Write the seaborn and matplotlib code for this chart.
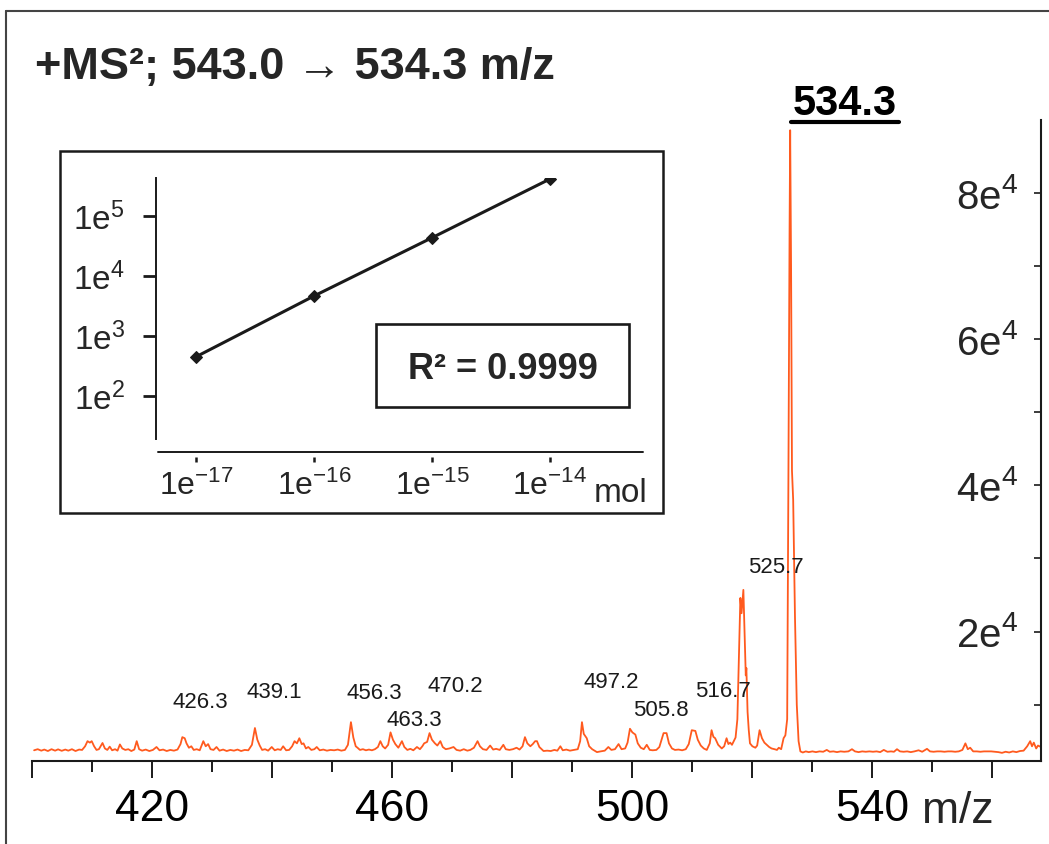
import numpy as np
import pandas as pd
import matplotlib
matplotlib.use("Agg")
import matplotlib.pyplot as plt
import seaborn as sns
from matplotlib.lines import Line2D
from matplotlib.patches import Rectangle
from matplotlib.ticker import NullLocator
from matplotlib.transforms import IdentityTransform

# spectrum (m/z, counts on the right-hand axis)
mz = [400.3, 400.9, 401.5, 402.0, 402.6, 403.2, 403.8, 404.3, 404.9, 405.5,
      406.0, 406.6, 407.2, 407.8, 408.3, 408.8, 409.2, 409.6, 409.9, 410.3,
      410.7, 411.1, 411.7, 412.1, 412.5, 412.9, 413.3, 413.8, 414.2, 414.6,
      415.0, 415.5, 416.0, 416.5, 417.0, 417.4, 417.8, 418.3, 418.9, 419.5,
      420.1, 420.7, 421.2, 421.8, 422.4, 423.0, 423.6, 424.2, 424.7, 425.0,
      425.4, 425.7, 426.1, 426.5, 426.9, 427.4, 427.9, 428.5, 428.9, 429.3,
      429.7, 430.2, 430.7, 431.2, 431.8, 432.4, 433.0, 433.6, 434.2, 434.8,
      435.4, 436.0, 436.6, 437.1, 437.5, 437.9, 438.3, 438.8, 439.3, 439.9,
      440.4, 440.9, 441.4, 441.8, 442.3, 442.8, 443.3, 443.7, 444.1, 444.5,
      444.9, 445.2, 445.6, 446.0, 446.5, 447.0, 447.4, 447.9, 448.5, 449.1,
      449.7, 450.3, 450.9, 451.5, 452.1, 452.6, 453.1, 453.5, 453.9, 454.2,
      454.6, 455.1, 455.6, 456.1, 456.6, 457.1, 457.6, 458.0, 458.4, 458.8,
      459.3, 459.7, 460.1, 460.5, 461.0, 461.6, 462.0, 462.5, 463.0, 463.5,
      464.1, 464.6, 465.0, 465.3, 465.8, 466.2, 466.6, 467.1, 467.5, 468.0,
      468.4, 468.9, 469.5, 470.2, 470.7, 471.3, 471.9, 472.5, 473.0, 473.6,
      474.2, 474.6, 475.1, 475.7, 476.3, 476.8, 477.3, 477.9, 478.5, 478.9,
      479.5, 480.1, 480.7, 481.2, 481.7, 482.1, 482.5, 483.0, 483.4, 483.8,
      484.1, 484.5, 485.2, 485.8, 486.4, 487.0, 487.5, 488.0, 488.4, 489.0,
      489.6, 490.3, 490.9, 491.3, 491.6, 491.9, 492.4, 492.8, 493.3, 494.1,
      494.7, 495.4, 496.0, 496.5, 497.1, 497.7, 498.2, 498.8, 499.2, 499.6,
      500.0, 500.5, 500.9, 501.4, 501.9, 502.4, 502.9, 503.4, 504.0, 504.5,
      504.9, 505.2, 505.7, 506.1, 506.6, 507.1, 507.7, 508.3, 508.9, 509.4,
      509.9, 510.5, 510.9, 511.4, 511.9, 512.4, 512.9, 513.2, 513.5, 513.8,
      514.3, 514.9, 515.3, 515.7, 516.0, 516.3, 516.6, 516.9, 517.2, 517.5,
      517.8, 518.0, 518.2, 518.5, 518.7, 518.9, 519.0, 519.2, 519.4, 519.6,
      520.0, 520.5, 520.8, 521.2, 521.6, 522.0, 522.4, 522.8, 523.2, 523.7,
      524.1, 524.4, 524.8, 525.2, 525.5, 525.8, 526.0, 526.2, 526.3, 526.45,
      526.6, 526.8, 527.1, 527.4, 527.7, 528.0, 528.4, 528.9, 529.4, 530.0,
      530.6, 531.2, 531.8, 532.4, 532.9, 533.5, 534.1, 534.7, 535.3, 536.0,
      536.6, 537.1, 537.7, 538.3, 538.9, 539.5, 540.1, 540.7, 541.3, 541.9,
      542.5, 543.1, 543.6, 544.1, 544.6, 545.2, 545.8, 546.4, 547.0, 547.7,
      548.3, 549.1, 549.6, 550.2, 550.8, 551.4, 552.0, 552.6, 553.2, 553.8,
      554.4, 555.0, 555.5, 555.9, 556.3, 556.8, 557.4, 558.0, 558.6, 559.2,
      559.8, 560.4, 561.0, 561.6, 562.2, 562.8, 563.4, 564.0, 564.6, 565.2,
      565.8, 566.3, 566.6, 566.9, 567.3, 567.6, 568.1]
intensity = [3750, 3900, 3700, 3850, 3650, 3900, 3700, 3880, 3680, 3850,
             3700, 3900, 3650, 3850, 3800, 4300, 5000, 4800, 5000, 4300,
             3800, 3900, 4750, 4000, 3800, 4250, 3750, 3900, 3700, 4550,
             4000, 3800, 3900, 3650, 3850, 5000, 3900, 3700, 3850, 3650,
             3800, 4200, 3750, 3850, 3650, 3800, 3700, 3850, 4600, 5550,
             5400, 4700, 4100, 4300, 3800, 3900, 3750, 5000, 4300, 4600,
             3900, 3800, 4200, 3700, 3850, 3650, 3800, 3700, 3850, 3650,
             3800, 3750, 4500, 6800, 5200, 4400, 3800, 3900, 3700, 4200,
             3750, 3900, 3800, 4300, 3750, 3800, 4300, 5000, 4700, 5400,
             4600, 4700, 4000, 4200, 3800, 3900, 4200, 3750, 3850, 3700,
             3800, 3750, 3850, 3700, 3800, 4500, 7600, 5500, 4300, 4100,
             3800, 3900, 3750, 3850, 3750, 3900, 4200, 5000, 4300, 4000,
             4500, 6200, 5200, 4600, 4100, 5000, 4200, 3800, 3950, 3750,
             4200, 3900, 4300, 4700, 4900, 6100, 5200, 4700, 4400, 5000,
             4200, 3900, 4000, 4200, 3800, 3700, 3900, 3700, 3800, 4100,
             5000, 4300, 3900, 3800, 4400, 3850, 3950, 3800, 4500, 3900,
             3800, 3900, 4100, 3850, 4300, 5550, 4700, 4300, 4600, 5000,
             5000, 4200, 3650, 3700, 3650, 3800, 3700, 4300, 3750, 3850,
             3700, 3800, 3900, 5000, 7600, 6000, 5400, 4300, 3900, 3500,
             3600, 3700, 4200, 3800, 3900, 4600, 3900, 4000, 4800, 6700,
             6200, 5900, 4700, 4100, 3900, 4500, 3800, 3750, 3800, 4200,
             5300, 6100, 6100, 4700, 4000, 3800, 3850, 3750, 3900, 4600,
             6500, 6400, 5200, 4400, 4000, 3800, 4700, 6500, 5600, 5400,
             4500, 4000, 4300, 5400, 4600, 4800, 4500, 5000, 5500, 8000,
             18000, 24600, 22500, 25700, 20000, 14000, 15000, 9000, 6500, 4700,
             4300, 4100, 4400, 6500, 5400, 4800, 4500, 4200, 4000, 3900,
             3800, 4100, 3900, 5400, 5800, 8000, 40000, 75000, 88600, 70000,
             42000, 38000, 22000, 10000, 5000, 3600, 3450, 3600, 3500, 3600,
             3500, 3600, 3550, 3800, 3550, 3600, 3500, 3600, 3550, 3600,
             3900, 3600, 3500, 3600, 3550, 3600, 3550, 3600, 3500, 3800,
             3550, 3600, 3550, 3900, 3600, 3550, 3600, 3500, 3600, 3750,
             3550, 3950, 3600, 3550, 3600, 3600, 3550, 3600, 3600, 3550,
             3600, 3800, 4700, 3900, 4100, 3600, 3600, 3550, 3600, 3600,
             3600, 3550, 3500, 3400, 3550, 3450, 3600, 3500, 3650, 3700,
             4300, 5000, 4300, 4800, 4000, 4400, 4200]

peak_labels = ["426.3", "439.1", "456.3", "463.3", "470.2",
               "497.2", "505.8", "516.7", "525.7"]
base_peak = "534.3"
title = "+MS²; 543.0 → 534.3 m/z"

x_tick_labels = ["", "420", "", "460", "", "500", "", "540", ""]
y_tick_values = [2e4, 4e4, 6e4, 8e4]
y_tick_labels = [r"2e$^{4}$", r"4e$^{4}$", r"6e$^{4}$", r"8e$^{4}$"]

# calibration inset
inset_mol = [1e-17, 1e-16, 1e-15, 1e-14]
inset_signal = [450, 4640, 43400, 414000]
inset_x_labels = [r"1e$^{-17}$", r"1e$^{-16}$", r"1e$^{-15}$", r"1e$^{-14}$"]
inset_y_values = [1e2, 1e3, 1e4, 1e5]
inset_y_labels = [r"1e$^{2}$", r"1e$^{3}$", r"1e$^{4}$", r"1e$^{5}$"]
r2_text = "R² = 0.9999"

# where the peak labels sit (data coords of the text centres)
label_x = [427.95, 440.4, 456.95, 463.6, 470.45, 496.55, 504.8, 515.1, 523.95]
label_y = [10230, 11720, 11590, 7890, 12540, 12960, 9260, 11860, 28700]

sns.set_style("white")
plt.rcParams["font.family"] = ["Liberation Sans", "DejaVu Sans"]
plt.rcParams["mathtext.fontset"] = "custom"
plt.rcParams["mathtext.rm"] = "Liberation Sans"
plt.rcParams["mathtext.bf"] = "Liberation Sans:bold"
plt.rcParams["mathtext.default"] = "regular"

W, H = 1049, 844
fig = plt.figure(figsize=(W / 100, H / 100), dpi=100, facecolor="white")


def fx(px):
    return px / W


def fy(py):
    return 1 - py / H


ink = "#1a1a1a"
orange = "#ff5a1e"

# ---- main spectrum ----
ax = fig.add_axes([fx(32.3), fy(761), fx(1041) - fx(32.3), fy(120) - fy(761)])
spec = pd.DataFrame({"mz": mz, "intensity": intensity})
sns.lineplot(data=spec, x="mz", y="intensity", ax=ax, color=orange,
             linewidth=1.3, estimator=None, sort=False)
ax.set_xlim(400, 568.1)
ax.set_ylim(2285, 90000)
ax.set_xlabel("")
ax.set_ylabel("")
ax.spines["top"].set_visible(False)
ax.spines["left"].set_visible(False)
for s in ["bottom", "right"]:
    ax.spines[s].set_linewidth(1.5)
    ax.spines[s].set_color(ink)

ax.set_xticks(np.arange(400, 561, 20))
ax.set_xticks(np.arange(410, 560, 20), minor=True)
ax.set_xticklabels(x_tick_labels)
ax.tick_params(axis="x", which="both", bottom=True, top=False)
ax.tick_params(axis="x", which="major", direction="out", length=12.2, width=1.4,
               labelsize=32, pad=8, color=ink, labelcolor="black")
ax.tick_params(axis="x", which="minor", direction="out", length=8, width=1.4, color=ink)

ax.set_yticks(y_tick_values)
ax.set_yticks([1e4, 3e4, 5e4, 7e4], minor=True)
ax.set_yticklabels(y_tick_labels)
ax.tick_params(axis="y", which="both", left=False, right=True, labelleft=False,
               labelright=True, direction="in", length=5, width=1.2, color=ink)
ax.tick_params(axis="y", which="major", labelsize=29, pad=-16.6)
for lbl in ax.get_yticklabels():
    lbl.set_horizontalalignment("right")

for txt, x, y in zip(peak_labels, label_x, label_y):
    ax.text(x, y, txt, ha="center", va="center", fontsize=16, color=ink)

bp = ax.text(535.45, 90660, base_peak, ha="center", va="baseline",
             fontsize=30, fontweight="bold", color="black")

fig.text(fx(922), fy(823.3), "m/z", fontsize=32, ha="left", va="baseline")
fig.text(fx(35), fy(79), title, fontsize=32.5, fontweight="bold",
         ha="left", va="baseline")

# ---- inset: calibration curve ----
fig.add_artist(Rectangle((fx(60), fy(513)), fx(663) - fx(60), fy(151) - fy(513),
                         transform=fig.transFigure, fill=True, facecolor="white",
                         edgecolor=ink, linewidth=1.8, zorder=3))

ax_in = fig.add_axes([fx(156), fy(439), fx(643) - fx(156), fy(178) - fy(439)])
ax_in.set_zorder(4)
ax_in.set_facecolor("none")
sns.lineplot(x=inset_mol, y=inset_signal, ax=ax_in, color=ink, linewidth=2.2,
             marker="D", markersize=6, markeredgecolor=ink, estimator=None)
ax_in.set_xscale("log")
ax_in.set_yscale("log")
ax_in.set_xlim(10 ** -17.339, 10 ** -13.212)
ax_in.set_ylim(10 ** 1.283, 10 ** 5.633)
for s in ["top", "right", "bottom"]:
    ax_in.spines[s].set_visible(False)
ax_in.spines["left"].set_linewidth(1.4)
ax_in.spines["left"].set_color(ink)
ax_in.spines["bottom"].set_position(("outward", 13))
ax_in.plot([0.004, 1], [-0.0498, -0.0498], transform=ax_in.transAxes,
           clip_on=False, color=ink, linewidth=1.4)

ax_in.set_xticks(inset_mol)
ax_in.xaxis.set_minor_locator(NullLocator())
ax_in.set_xticklabels(inset_x_labels)
ax_in.tick_params(axis="x", which="major", bottom=True, top=False, direction="out",
                  length=3.6, width=1.8, labelsize=23, pad=6, color=ink)
ax_in.set_yticks(inset_y_values)
ax_in.yaxis.set_minor_locator(NullLocator())
ax_in.set_yticklabels(inset_y_labels)
ax_in.tick_params(axis="y", which="major", left=True, right=False, direction="out",
                  length=9.4, width=2, labelsize=24, pad=13, color=ink)
ax_in.set_xlabel("")
ax_in.set_ylabel("")

fig.text(fx(594), fy(501.7), "mol", fontsize=24, ha="left", va="baseline", zorder=5)

fig.add_artist(Rectangle((fx(376), fy(407)), fx(629) - fx(376), fy(324) - fy(407),
                         transform=fig.transFigure, fill=False,
                         edgecolor=ink, linewidth=1.9, zorder=5))
fig.text(fx(503), fy(379), r2_text, fontsize=26, fontweight="bold",
         ha="center", va="baseline", zorder=6)

# outer frame (runs off the right and bottom edges)
fig.add_artist(Line2D([fx(6), 1], [fy(11), fy(11)], transform=fig.transFigure,
                      color="#444444", linewidth=1.5))
fig.add_artist(Line2D([fx(6), fx(6)], [fy(11), 0], transform=fig.transFigure,
                      color="#444444", linewidth=1.5))

# underline under the base peak label
fig.canvas.draw()
bb = bp.get_window_extent()
fig.add_artist(Line2D([bb.x0 - 2, bb.x1 + 2], [H - 122, H - 122],
                      transform=IdentityTransform(), color="black", linewidth=3))

fig.savefig("out.png", dpi=100, facecolor="white")
